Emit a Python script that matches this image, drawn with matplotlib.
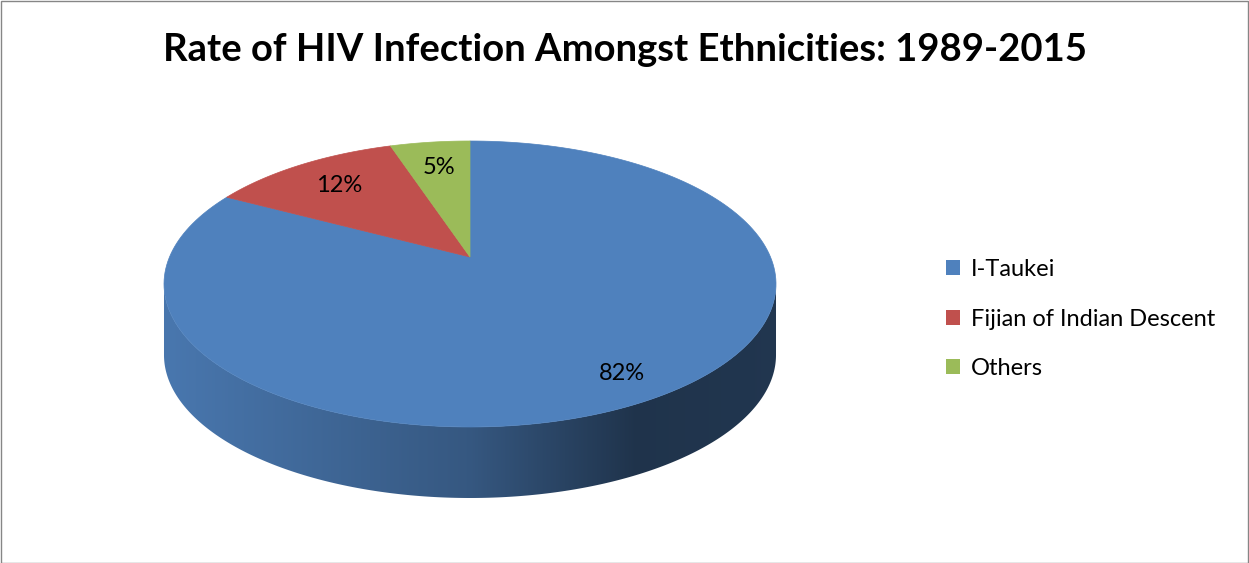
import numpy as np
import matplotlib
matplotlib.use('Agg')
import matplotlib.pyplot as plt
from matplotlib.patches import Polygon, Patch, Rectangle
from matplotlib.colors import to_rgb

plt.rcParams['font.family'] = ['Lato', 'DejaVu Sans']

# data
labels = ['I-Taukei', 'Fijian of Indian Descent', 'Others']
values = [82, 12, 5]
colors = ['#4F81BD', '#C0504D', '#9BBB59']
title = 'Rate of HIV Infection Amongst Ethnicities: 1989-2015'

# pie geometry in pixels (perspective view, apex above ellipse centre)
cx, cy = 470, 257
A, B, k = 300.5, 137.9, 0.1888
depth = 71
lab_r = [0.85, 0.75, 0.75]


def proj(t, r=1.0):
    x = r * np.cos(t)
    y = r * np.sin(t)
    d = 1 + k * y
    return cx + A * x / d, cy - B * y / d


fig = plt.figure(figsize=(12.49, 5.63), dpi=100)
ax = fig.add_axes([0, 0, 1, 1])
ax.axis('off')

fr = np.array(values, float) / sum(values)
edges = np.pi / 2 - 2 * np.pi * np.concatenate([[0], np.cumsum(fr)])

# side wall, visible front arc between the two silhouette points
s = np.arcsin(k)
lo, hi = np.pi + s, 2 * np.pi - s
shade_x = [-1, 0, 0.55, 1]
shade_f = [0.92, 0.68, 0.40, 0.42]
gx = np.linspace(-1.02, 1.02, 600)
for i in range(len(values)):
    # slice edges expressed in the same range as the front arc
    a0 = edges[i + 1] % (2 * np.pi)
    a1 = a0 + (edges[i] - edges[i + 1])
    for off in (-2 * np.pi, 0, 2 * np.pi):
        t0 = max(a0 + off, lo)
        t1 = min(a1 + off, hi)
        if t1 <= t0:
            continue
        tt = np.linspace(t0, t1, 300)
        px, py = proj(tt)
        pts = list(zip(px, py)) + list(zip(px[::-1], py[::-1] + depth))
        poly = Polygon(pts, closed=True, fc='none', ec='none')
        ax.add_patch(poly)
        base = np.array(to_rgb(colors[i]))
        img = base[None, :] * np.interp(gx, shade_x, shade_f)[:, None]
        im = ax.imshow(img[None, :, :], extent=[cx + A * gx[0], cx + A * gx[-1],
                                                 cy + 280, cy - 40],
                       aspect='auto', interpolation='bilinear', zorder=1)
        im.set_clip_path(poly)

# top face
for i in range(len(values)):
    tt = np.linspace(edges[i], edges[i + 1], 200)
    px, py = proj(tt)
    pts = [(cx, cy)] + list(zip(px, py))
    ax.add_patch(Polygon(pts, closed=True, fc=colors[i], ec=colors[i], lw=0.5, zorder=2))
    tm = (edges[i] + edges[i + 1]) / 2
    lx, ly = proj(tm, lab_r[i])
    ax.text(lx, ly, '{:d}%'.format(values[i]), ha='center', va='center',
            fontsize=17, color='black', zorder=3)

ax.set_xlim(0, 1249)
ax.set_ylim(563, 0)

fig.text(625 / 1249, 1 - 50 / 563, title, ha='center', va='center',
         fontsize=27.5, fontweight='bold')

handles = [Patch(fc=c, ec='none') for c in colors]
fig.legend(handles, labels, loc='center left', bbox_to_anchor=(946 / 1249, 1 - 319 / 563),
           frameon=False, fontsize=17, handlelength=0.6, handleheight=0.6,
           handletextpad=0.45, labelspacing=1.22, borderpad=0, borderaxespad=0)

fig.add_artist(Rectangle((0.5 / 1249, 0.5 / 563), 1 - 1.5 / 1249, 1 - 1.5 / 563,
                         transform=fig.transFigure, fill=False, ec='#868686', lw=1))

fig.savefig('out.png', dpi=100)
